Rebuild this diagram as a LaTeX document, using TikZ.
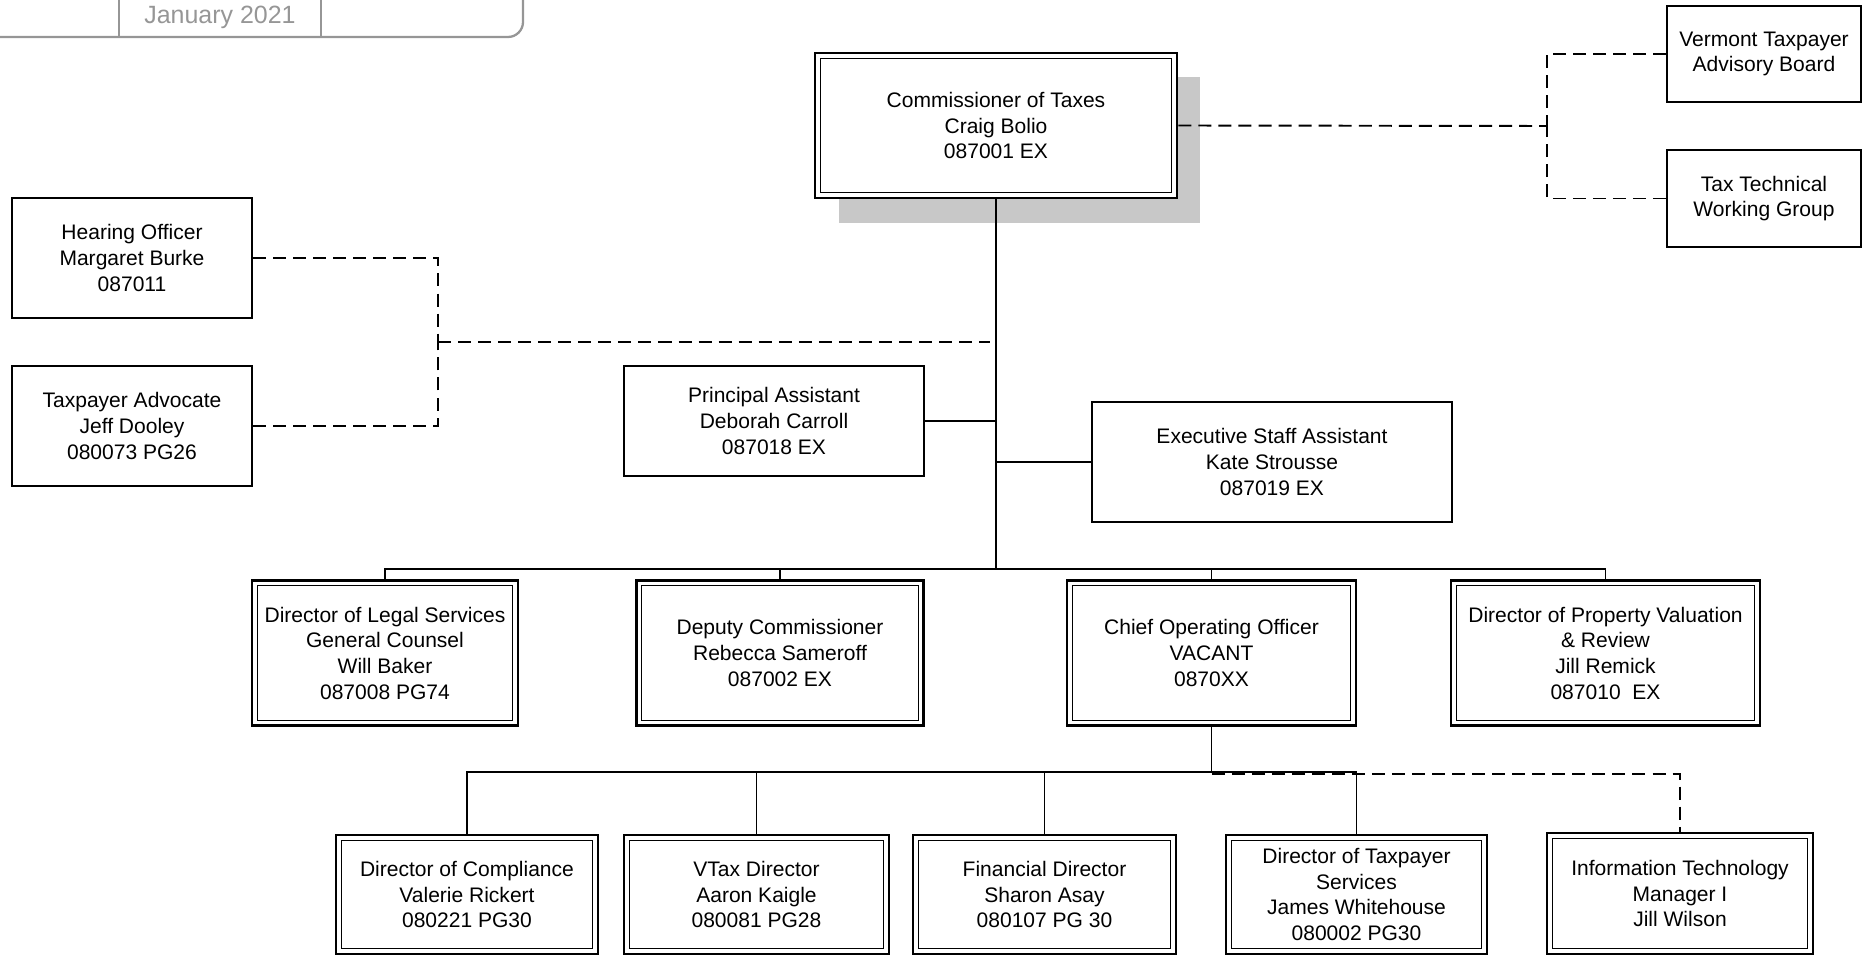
\documentclass[tikz,border=0pt]{standalone}
\usepackage{fontspec}
\setmainfont{Liberation Sans}
\usepackage{tikz}
\usetikzlibrary{positioning}
\definecolor{mgray}{RGB}{150,150,150}
\definecolor{shadegray}{RGB}{200,200,200}
\tikzset{sbox/.style = {draw, line width=0.55pt, fill=white, align=center, inner sep=0,
                        font=\fontsize{5.98}{7.3}\selectfont}}
\tikzset{dbox/.style = {sbox, line width=0.7pt,
                        path picture={\draw[line width=0.35pt]
                          ([shift={(1.5pt,-1.5pt)}]path picture bounding box.north west) rectangle
                          ([shift={(-1.5pt,1.5pt)}]path picture bounding box.south east);}}}
\tikzset{dashln/.style = {line width=0.55pt, dash pattern=on 3.7pt off 2pt}}
\tikzset{solidln/.style = {line width=0.55pt}}

\begin{document}
\begin{tikzpicture}[x=0.01cm, y=-0.01cm]
      \useasboundingbox (0,0) rectangle (1875,955);

      % header tab
      \draw [mgray, line width=0.65pt, rounded corners=0.15cm] (0,37) -| (523,-2);
      \draw [mgray, line width=0.65pt] (119,-2) -- (119,37) (321,-2) -- (321,37);
      \node (date) at (220,17) [mgray, font=\fontsize{7.1}{8}\selectfont] {January 2021};

      % commissioner with its shadow
      \fill [shadegray] (839,77) rectangle (1200,223);
      \node (comm) at (996,125.5) [dbox, minimum width=3.62cm, minimum height=1.45cm]
            {Commissioner of Taxes\\Craig Bolio\\087001 EX};

      \node (vtab) at (1764,54) [sbox, minimum width=1.94cm, minimum height=0.96cm]
            {Vermont Taxpayer\\Advisory Board};
      \node (ttwg) at (1764,198.5) [sbox, minimum width=1.94cm, minimum height=0.97cm]
            {Tax Technical\\Working Group};

      \node (hear) at (132,258) [sbox, minimum width=2.4cm, minimum height=1.2cm]
            {Hearing Officer\\Margaret Burke\\087011};
      \node (advo) at (132,426) [sbox, minimum width=2.4cm, minimum height=1.2cm]
            {Taxpayer Advocate\\Jeff Dooley\\080073 PG26};

      \node (prin) at (774,421) [sbox, minimum width=3.0cm, minimum height=1.1cm]
            {Principal Assistant\\Deborah Carroll\\087018 EX};
      \node (exec) at (1272,462) [sbox, minimum width=3.6cm, minimum height=1.2cm]
            {Executive Staff Assistant\\Kate Strousse\\087019 EX};

      % directors
      \node (legal) at (385,653) [dbox, minimum width=2.66cm, minimum height=1.45cm]
            {Director of Legal Services\\General Counsel\\Will Baker\\087008 PG74};
      \node (deputy) at (780,653) [dbox, minimum width=2.87cm, minimum height=1.45cm]
            {Deputy Commissioner\\Rebecca Sameroff\\087002 EX};
      \node (coo) at (1211.5,653) [dbox, minimum width=2.89cm, minimum height=1.45cm]
            {Chief Operating Officer\\VACANT\\0870XX};
      \node (prop) at (1605.5,653) [dbox, minimum width=3.09cm, minimum height=1.45cm]
            {Director of Property Valuation\\\& Review\\Jill Remick\\087010\ \ EX};

      % under the COO
      \node (comp) at (467,894.5) [dbox, minimum width=2.62cm, minimum height=1.19cm]
            {Director of Compliance\\Valerie Rickert\\080221 PG30};
      \node (vtax) at (756.5,894.5) [dbox, minimum width=2.65cm, minimum height=1.19cm]
            {VTax Director\\Aaron Kaigle\\080081 PG28};
      \node (fin) at (1044.5,894.5) [dbox, minimum width=2.63cm, minimum height=1.19cm]
            {Financial Director\\Sharon Asay\\080107 PG 30};
      \node (tps) at (1356.5,894.5) [dbox, minimum width=2.61cm, minimum height=1.19cm]
            {Director of Taxpayer\\Services\\James Whitehouse\\080002 PG30};
      \node (it) at (1680,893.5) [dbox, minimum width=2.66cm, minimum height=1.21cm]
            {Information Technology\\Manager I\\Jill Wilson};

      % solid lines
      \coordinate (bar) at (996,569);
      \coordinate (cbar) at (1211.5,772);
      \draw [solidln] (comm.south) -- (bar);
      \draw [solidln] (prin.east) -- (prin.east -| bar);
      \draw [solidln] (exec.west) -- (exec.west -| bar);
      \foreach \n in {legal, deputy, coo, prop}
        \draw [solidln] (bar) -| (\n.north);
      \draw [solidln] (coo.south) -- (cbar);
      \foreach \n in {comp, vtax, fin, tps}
        \draw [solidln] (cbar) -| (\n.north);

      % dashed lines
      \coordinate (rj) at (1547,126);
      \coordinate (lj) at (438,342);
      \coordinate (lk) at (990,342);
      \draw [dashln] (comm.east) -- (rj);
      \draw [dashln] (vtab.west) -| (rj);
      \draw [dashln] (ttwg.west) -| (rj);
      \draw [dashln] (hear.east) -| (lj);
      \draw [dashln] (advo.east) -| (lj);
      \draw [dashln] (lj) -- (lk);
      \draw [dashln] ([yshift=-0.6pt]cbar) -| (it.north);
    \end{tikzpicture}
\end{document}
